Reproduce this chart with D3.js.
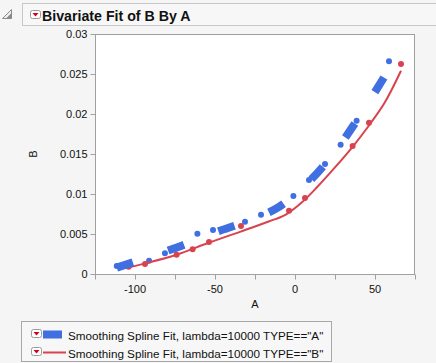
<!DOCTYPE html>
<html>
<head>
<meta charset="utf-8">
<script src="https://cdn.jsdelivr.net/npm/d3@7"></script>
<style>
  body { margin: 0; background: #f5f5f5; }
  svg { display: block; font-family: "Liberation Sans", Arial, sans-serif; }
</style>
</head>
<body>
<svg id="view" width="436" height="363"></svg>
<script>
// group A points
const aX = [-111.4, -91.2, -81.3, -61, -51.25, -31.25, -21.25, -1, 8.75, 18.75, 28.5, 38.5, 58.75];
const aY = [0.001, 0.00166, 0.0026, 0.00504, 0.0055, 0.00654, 0.0074, 0.00975, 0.01175, 0.01375, 0.01617, 0.01917, 0.0266];
// group B points
const bX = [-104, -93.75, -74, -64, -53.75, -33.75, -3.75, 6.25, 36, 46.25, 66.25];
const bY = [0.0009, 0.00125, 0.0024, 0.0031, 0.004, 0.006, 0.0079, 0.0095, 0.016, 0.0189, 0.02625];
// spline fits
const fitAX = [-111.4, -90, -70, -50, -30, -10, 10, 25, 40, 58.75];
const fitAY = [0.0008, 0.0022, 0.0036, 0.0052, 0.0066, 0.0084, 0.0118, 0.0153, 0.0196, 0.0256];
const fitBX = [-104, -94, -74, -54, -34, -16, -6, 4, 14, 24, 36, 46, 56, 66.25];
const fitBY = [0.0008, 0.0013, 0.0024, 0.0039, 0.0053, 0.0066, 0.0074, 0.0089, 0.0109, 0.0131, 0.0159, 0.0185, 0.0214, 0.0254];

const xTicks = [-125, -100, -75, -50, -25, 0, 25, 50, 75];
const xLabels = [-100, -50, 0, 50];
const yTicks = [0, 0.005, 0.01, 0.015, 0.02, 0.025, 0.03];
const legendLabels = ['Smoothing Spline Fit, lambda=10000 TYPE=="A"', 'Smoothing Spline Fit, lambda=10000 TYPE=="B"'];

const BLUE = '#3f6fe0', RED = '#d9434f', GRID = '#a0a0a0';
const L = 95, T = 34, R = 415, B = 274;

var view = d3.select('#view');

var x = d3.scaleLinear().domain([-125, 75]).range([L, R]);
var y = d3.scaleLinear().domain([0, 0.03]).range([B, T]);

// header
view.append('rect').attr('x', 22.5).attr('y', 3.5).attr('width', 420).attr('height', 22)
    .attr('fill', '#f7f7f7').attr('stroke', '#c8c8c8');
view.append('path').attr('d', 'M11.5,9.5 L11.5,18.5 L2.5,18.5 Z')
    .attr('fill', '#f0f0f0').attr('stroke', '#8a8a8a');
view.append('path').attr('d', 'M11.5,13 L11.5,18.5 L6,18.5 Z').attr('fill', '#8a8a8a');

function redButton(g, bx, by) {
    g.append('rect').attr('x', bx + .5).attr('y', by + .5).attr('width', 10).attr('height', 8).attr('rx', 2)
        .attr('fill', '#fff').attr('stroke', '#9a9a9a');
    g.append('path').attr('d', 'M' + (bx + 2.5) + ',' + (by + 3) + ' L' + (bx + 8.5) + ',' + (by + 3) + ' L' + (bx + 5.5) + ',' + (by + 6.5) + ' Z')
        .attr('fill', '#d0021b');
}
redButton(view, 30, 10);
view.append('text').attr('x', 42).attr('y', 20.5).attr('font-weight', 'bold').attr('font-size', 14.2)
    .attr('fill', '#111').text('Bivariate Fit of B By A');

// plot frame
view.append('rect').attr('x', L + .5).attr('y', T + .5).attr('width', R - L - 1).attr('height', B - T)
    .attr('fill', '#fff').attr('stroke', GRID);

// axes
var xAxis = view.append('g').attr('transform', 'translate(0,' + (B + .5) + ')');
xAxis.append('line').attr('x1', L).attr('x2', R).attr('stroke', GRID);
xAxis.selectAll('line.tick').data(xTicks).enter().append('line')
    .attr('class', 'tick')
    .attr('x1', d => Math.round(x(d)) + .5).attr('x2', d => Math.round(x(d)) + .5)
    .attr('y1', 0).attr('y2', 5).attr('stroke', GRID);
xAxis.selectAll('text').data(xLabels).enter().append('text')
    .attr('x', d => x(d)).attr('y', 18.5).attr('text-anchor', 'middle')
    .attr('font-size', 11).attr('fill', '#111').text(d => d);

var yAxis = view.append('g').attr('transform', 'translate(' + (L + .5) + ',0)');
yAxis.selectAll('line.tick').data(yTicks).enter().append('line')
    .attr('class', 'tick')
    .attr('y1', d => Math.round(y(d)) + .5).attr('y2', d => Math.round(y(d)) + .5)
    .attr('x1', -5).attr('x2', 0).attr('stroke', GRID);
yAxis.selectAll('text').data(yTicks).enter().append('text')
    .attr('x', -8).attr('y', d => y(d) + 4).attr('text-anchor', 'end')
    .attr('font-size', 11).attr('fill', '#111').text(d => d3.format('')(+d.toFixed(3)));

view.append('text').attr('x', x(-25)).attr('y', 308).attr('text-anchor', 'middle')
    .attr('font-size', 11).attr('fill', '#111').text('A');
view.append('text').attr('transform', 'translate(37,' + y(0.015) + ') rotate(-90)')
    .attr('text-anchor', 'middle').attr('font-size', 11).attr('fill', '#111').text('B');

// points
var plot = view.append('g');
plot.selectAll('circle.a').data(d3.zip(aX, aY)).enter().append('circle')
    .attr('class', 'a').attr('cx', d => x(d[0])).attr('cy', d => y(d[1])).attr('r', 3)
    .attr('fill', BLUE);
plot.selectAll('circle.b').data(d3.zip(bX, bY)).enter().append('circle')
    .attr('class', 'b').attr('cx', d => x(d[0])).attr('cy', d => y(d[1])).attr('r', 3)
    .attr('fill', RED);

// fits
var line = d3.line().x(d => x(d[0])).y(d => y(d[1])).curve(d3.curveCatmullRom.alpha(0.5));
plot.append('path').attr('d', line(d3.zip(fitBX, fitBY)))
    .attr('fill', 'none').attr('stroke', RED).attr('stroke-width', 2);
plot.append('path').attr('d', line(d3.zip(fitAX, fitAY)))
    .attr('fill', 'none').attr('stroke', BLUE).attr('stroke-width', 8)
    .attr('stroke-dasharray', '17,37');

// legend
var leg = view.append('g');
leg.append('rect').attr('x', 21.5).attr('y', 321.5).attr('width', 310).attr('height', 40)
    .attr('fill', '#f7f7f7').attr('stroke', '#a8a8a8');
var item = leg.selectAll('g.item').data(legendLabels).enter().append('g')
    .attr('class', 'item')
    .attr('transform', (d, i) => 'translate(0,' + (329 + i * 18) + ')');
item.each(function(d, i) {
    var g = d3.select(this);
    redButton(g, 31, 0);
    if (i == 0)
        g.append('rect').attr('x', 43).attr('y', 1.5).attr('width', 19).attr('height', 8).attr('fill', BLUE);
    else
        g.append('line').attr('x1', 43).attr('x2', 66).attr('y1', 5.5).attr('y2', 5.5)
            .attr('stroke', RED).attr('stroke-width', 2);
});
item.append('text').attr('x', 68).attr('y', 10.5).attr('font-size', 11.7).attr('fill', '#111').text(d => d);
</script>
</body>
</html>
